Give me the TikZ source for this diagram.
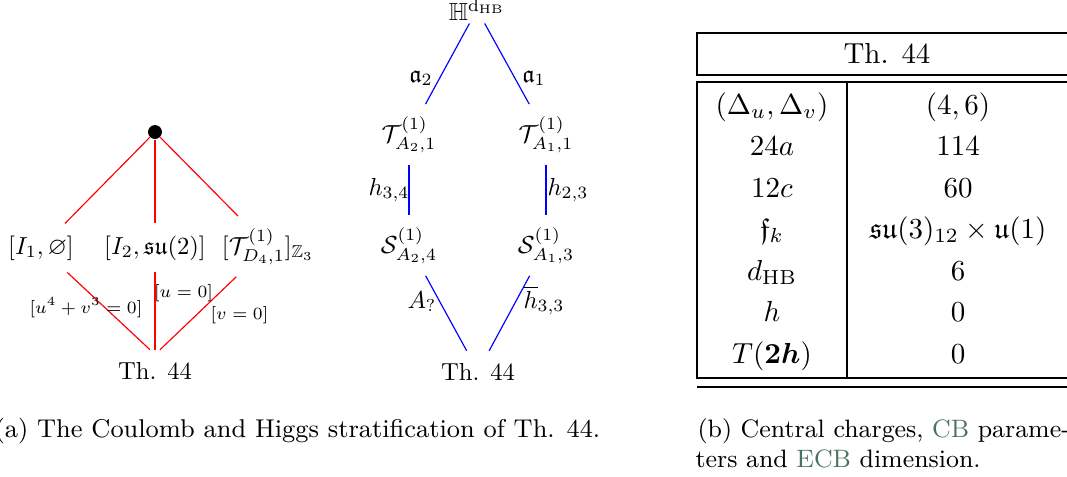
\documentclass[tikz,border=0pt]{standalone}
\usepackage{amsmath,amssymb}
\usetikzlibrary{calc}
\definecolor{linkgreen}{RGB}{74,115,95}
\newcommand\ascl[1]{\scalebox{0.85}{#1}}
\newcommand\alab[1]{\scalebox{0.85}{\scriptsize #1}}
\newcommand\capsc[1]{\scalebox{0.985}{\small #1}}
\newcommand\capscb[1]{\scalebox{0.965}{\small #1}}
\begin{document}
\begin{tikzpicture}[x=0.345pt,y=-0.345pt,
  redline/.style={red, line width=0.4pt},
  blueline/.style={blue, line width=0.4pt},
  txt/.style={anchor=base, inner sep=4pt},
  lbl/.style={anchor=base, inner sep=0pt},
  elbl/.style={anchor=base, inner sep=0pt},
  cell/.style={anchor=base, inner sep=0pt},
  captext/.style={anchor=base west, inner sep=0pt},
  tabrule/.style={line width=0.95pt}]
\useasboundingbox (0,0) rectangle (1067,476);
\clip (0,0) rectangle (1067,476);

% ---------- (a) left: Coulomb stratification ----------
\node[circle, fill=black, inner sep=0pt, minimum size=4.8pt] (top) at (155,132) {};
\node[txt] (i1) at (41,254) {\ascl{$[I_1,\varnothing]$}};
\node[txt] (i2) at (155,254) {\ascl{$[I_2,\mathfrak{su}(2)]$}};
\node[txt] (t3) at (268,254) {\ascl{$[\mathcal{T}^{(1)}_{D_4,1}]_{\mathbb{Z}_3}$}};
\node[txt] (thA) at (155,379) {\ascl{Th. 44}};

\draw[redline] (top) -- (i1);
\draw[redline] (top) -- (i2);
\draw[redline] (top) -- (t3);
\draw[redline] (i1) -- ($(thA.north)+(-5,0)$);
\draw[redline] (i2) -- (thA);
\draw[redline] (t3) -- ($(thA.north)+(5,0)$);

\node[lbl] (l1) at (86,313) {\alab{$[u^4+v^3=0]$}};
\node[lbl] (l2) at (183.5,297) {\alab{$[u=0]$}};
\node[lbl] (l3) at (239.5,319) {\alab{$[v=0]$}};

% ---------- (a) middle: Higgs stratification ----------
\node[txt, inner sep=1pt] (H) at (477,20) {\ascl{$\mathbb{H}^{\mathrm{d}_{\mathrm{HB}}}$}};
\node[txt] (Tl) at (409,142) {\ascl{$\mathcal{T}^{(1)}_{A_2,1}$}};
\node[txt] (Tr) at (546,142) {\ascl{$\mathcal{T}^{(1)}_{A_1,1}$}};
\node[txt] (Sl) at (409,253) {\ascl{$\mathcal{S}^{(1)}_{A_2,4}$}};
\node[txt] (Sr) at (546,253) {\ascl{$\mathcal{S}^{(1)}_{A_1,3}$}};
\node[txt] (thB) at (478,380) {\ascl{Th. 44}};

\draw[blueline] (H) -- (Tl);
\draw[blueline] (H) -- (Tr);
\draw[blueline] (Tl) -- (Sl);
\draw[blueline] (Tr) -- (Sr);
\draw[blueline] (Sl) -- (thB);
\draw[blueline] (Sr) -- (thB);

\node[elbl] (ea2) at (421,82) {\ascl{$\mathfrak{a}_2$}};
\node[elbl] (ea1) at (534,82) {\ascl{$\mathfrak{a}_1$}};
\node[elbl] (eh34) at (389,195) {\ascl{$h_{3,4}$}};
\node[elbl] (eh23) at (568,195) {\ascl{$h_{2,3}$}};
\node[elbl] (eA) at (422,308) {\ascl{$A_?$}};
\node[elbl] (eh33) at (544,308) {\ascl{$\overline{h}_{3,3}$}};

% ---------- (b) table ----------
\draw[tabrule] (697,33) rectangle (1090,75);
\draw[tabrule] (697,82) rectangle (1090,378);
\draw[tabrule] (847,82) -- (847,378);
\draw[tabrule] (697,387) -- (1090,387);

\node[cell] (thT) at (887,63) {Th. 44};
\node[cell] (r1a) at (772,114) {$(\Delta_u,\Delta_v)$};
\node[cell] (r1b) at (958,114) {$(4,6)$};
\node[cell] (r2a) at (772,155.5) {$24a$};
\node[cell] (r2b) at (958,155.5) {$114$};
\node[cell] (r3a) at (772,197) {$12c$};
\node[cell] (r3b) at (958,197) {$60$};
\node[cell] (r4a) at (772,238.5) {$\mathfrak{f}_k$};
\node[cell] (r4b) at (958,238.5) {$\mathfrak{su}(3)_{12}\times\mathfrak{u}(1)$};
\node[cell] (r5a) at (772,280) {$d_{\mathrm{HB}}$};
\node[cell] (r5b) at (958,280) {$6$};
\node[cell] (r6a) at (772,321.5) {$h$};
\node[cell] (r6b) at (958,321.5) {$0$};
\node[cell] (r7a) at (772,363) {$T(\boldsymbol{2h})$};
\node[cell] (r7b) at (958,363) {$0$};

% ---------- captions ----------
\node[captext] (capa) at (-6,437) {\capsc{(a) The Coulomb and Higgs stratification of Th. 44.}};
\node[captext] (capb1) at (697,437) {\capscb{(b) Central charges, \textcolor{linkgreen}{CB} parame-}};
\node[captext] (capb2) at (695,467) {\capscb{ters and \textcolor{linkgreen}{ECB} dimension.}};
\end{tikzpicture}
\end{document}
